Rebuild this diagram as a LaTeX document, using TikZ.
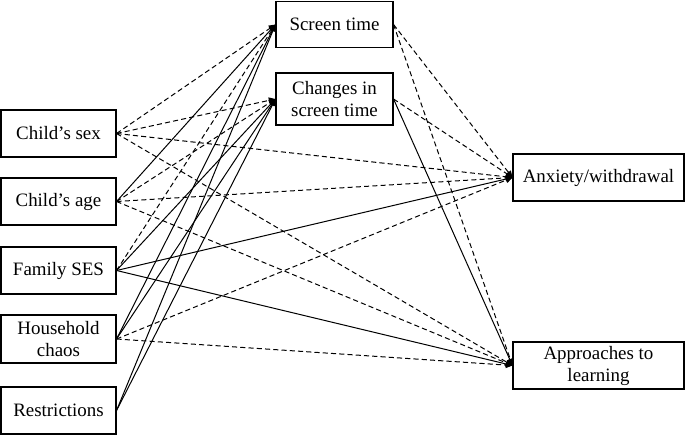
\documentclass[tikz,border=0pt]{standalone}
\usepackage{fontspec}
\setmainfont{Liberation Serif}
\usetikzlibrary{arrows.meta}
\begin{document}
\begin{tikzpicture}[x=0.75pt,y=-0.75pt,
  box/.style={draw, line width=0.8pt, inner sep=0pt, align=center,
    font=\fontsize{14.2}{16.5}\selectfont},
  solidarr/.style={line width=0.75pt, -{Triangle[length=5pt,width=4.5pt]}},
  dasharr/.style={line width=0.75pt, dash pattern=on 3.8pt off 2.4pt, -{Triangle[length=5pt,width=4.5pt]}}]
\useasboundingbox (0,0) rectangle (685,435);
% left boxes
\node[box, minimum width=115*0.75pt, minimum height=47*0.75pt] (sex) at (58.5,133.5) {Child’s sex};
\node[box, minimum width=115*0.75pt, minimum height=47*0.75pt] (age) at (58.5,201.5) {Child’s age};
\node[box, minimum width=115*0.75pt, minimum height=47*0.75pt] (ses) at (58.5,270.5) {Family SES};
\node[box, minimum width=115*0.75pt, minimum height=48*0.75pt] (chaos) at (58.5,339) {Household\\chaos};
\node[box, minimum width=115*0.75pt, minimum height=47*0.75pt] (restr) at (58.5,410.5) {Restrictions};
% top boxes
\node[box, minimum width=117*0.75pt, minimum height=46*0.75pt] (st) at (334.5,24.5) {Screen time};
\node[box, minimum width=117*0.75pt, minimum height=52*0.75pt] (cst) at (334.5,99) {Changes in\\screen time};
% right boxes
\node[box, minimum width=171*0.75pt, minimum height=47*0.75pt] (anx) at (598.5,177.5) {Anxiety/withdrawal};
\node[box, minimum width=171*0.75pt, minimum height=47*0.75pt] (atl) at (598.5,365.5) {Approaches to\\learning};
% child's sex
\draw[dasharr] (sex.east) -- (st.west);
\draw[dasharr] (sex.east) -- (cst.west);
\draw[dasharr] (sex.east) -- (anx.west);
\draw[dasharr] (sex.east) -- (atl.west);
% child's age
\draw[solidarr] (age.east) -- (st.west);
\draw[dasharr] (age.east) -- (cst.west);
\draw[dasharr] (age.east) -- (anx.west);
\draw[dasharr] (age.east) -- (atl.west);
% family SES
\draw[dasharr] (ses.east) -- (st.west);
\draw[solidarr] (ses.east) -- (cst.west);
\draw[solidarr] (ses.east) -- (anx.west);
\draw[solidarr] (ses.east) -- (atl.west);
% household chaos
\draw[solidarr] (chaos.east) -- (st.west);
\draw[solidarr] (chaos.east) -- (cst.west);
\draw[dasharr] (chaos.east) -- (anx.west);
\draw[dasharr] (chaos.east) -- (atl.west);
% restrictions
\draw[solidarr] (restr.east) -- (st.west);
\draw[solidarr] (restr.east) -- (cst.west);
% screen time
\draw[dasharr] (st.east) -- (anx.west);
\draw[dasharr] (st.east) -- (atl.west);
% changes in screen time
\draw[dasharr] (cst.east) -- (anx.west);
\draw[solidarr] (cst.east) -- (atl.west);
\end{tikzpicture}
\end{document}
